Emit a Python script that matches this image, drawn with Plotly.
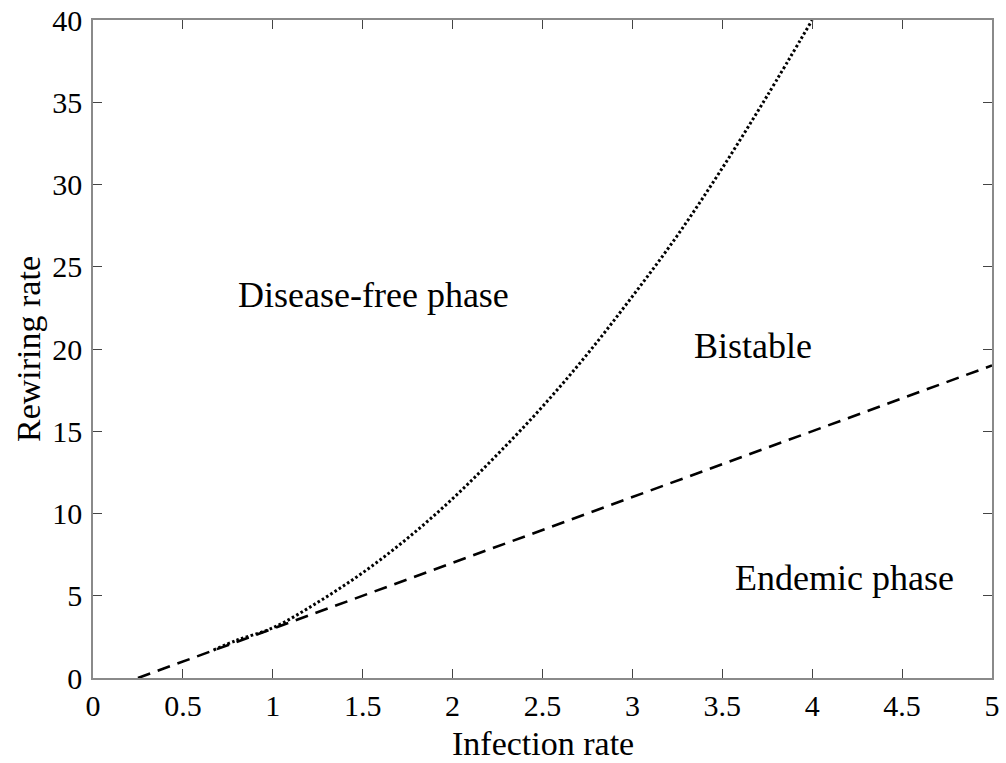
import plotly.graph_objects as go

# Dashed boundary (endemic threshold)
dash_x = [0.25, 5.0]
dash_y = [0.0, 19.0]

# Dotted boundary (bistability limit)
dot_x = [0.67, 0.8, 1.0, 1.25, 1.5, 1.75, 2.0, 2.25, 2.5, 2.75, 3.0, 3.25, 3.5, 3.75, 4.0]
dot_y = [1.7, 2.3, 3.05, 4.6, 6.4, 8.5, 10.9, 13.6, 16.5, 19.7, 23.2, 26.9, 31.0, 35.4, 40.0]

x_ticks = [0, 0.5, 1, 1.5, 2, 2.5, 3, 3.5, 4, 4.5, 5]
x_tick_text = ["0", "0.5", "1", "1.5", "2", "2.5", "3", "3.5", "4", "4.5", "5"]
y_ticks = [0, 5, 10, 15, 20, 25, 30, 35, 40]
y_tick_text = ["0", "5", "10", "15", "20", "25", "30", "35", "40"]

labels = ["Disease-free phase", "Bistable", "Endemic phase"]
label_x = [1.56, 3.67, 4.18]
label_y = [23.3, 20.2, 6.1]

x_title = "Infection rate"
y_title = "Rewiring rate"

FONT = "Liberation Serif"

fig = go.Figure()
fig.add_trace(go.Scatter(x=dash_x, y=dash_y, mode="lines",
                         line=dict(color="black", width=2.6, dash="13px,8px"),
                         showlegend=False, hoverinfo="skip"))
fig.add_trace(go.Scatter(x=dot_x, y=dot_y, mode="lines", line_shape="spline",
                         line=dict(color="black", width=3, dash="2.6px,2.4px"),
                         showlegend=False, hoverinfo="skip"))

for t, x, y in zip(labels, label_x, label_y):
    fig.add_annotation(x=x, y=y, text=t, showarrow=False,
                       font=dict(family=FONT, size=36, color="black"))

# axis titles placed as paper-anchored annotations for exact placement
fig.add_annotation(x=0.5, y=0, xref="paper", yref="paper", text=x_title, showarrow=False,
                   xanchor="center", yanchor="middle", yshift=-65, borderpad=0,
                   font=dict(family=FONT, size=34, color="black"))
fig.add_annotation(x=0, y=0.5, xref="paper", yref="paper", text=y_title, showarrow=False,
                   textangle=-90, xanchor="center", yanchor="middle", xshift=-65, borderpad=0,
                   font=dict(family=FONT, size=34, color="black"))

axis_common = dict(
    showline=True, linecolor="#8a8a8a", linewidth=1.5, mirror="allticks",
    ticks="inside", ticklen=9, tickwidth=1.2, tickcolor="#444444",
    showgrid=False, zeroline=False, automargin=False,
    tickfont=dict(family=FONT, size=30, color="black"),
)

fig.update_xaxes(range=[0, 5], tickmode="array", tickvals=x_ticks, ticktext=x_tick_text,
                 ticklabelstandoff=0, **axis_common)
fig.update_yaxes(range=[0, 40], tickmode="array", tickvals=y_ticks, ticktext=y_tick_text,
                 ticklabelstandoff=3, **axis_common)

fig.update_layout(
    width=1006, height=763,
    margin=dict(l=93, r=14, t=20, b=85),
    paper_bgcolor="white", plot_bgcolor="white",
)

fig.write_html("out.html")
